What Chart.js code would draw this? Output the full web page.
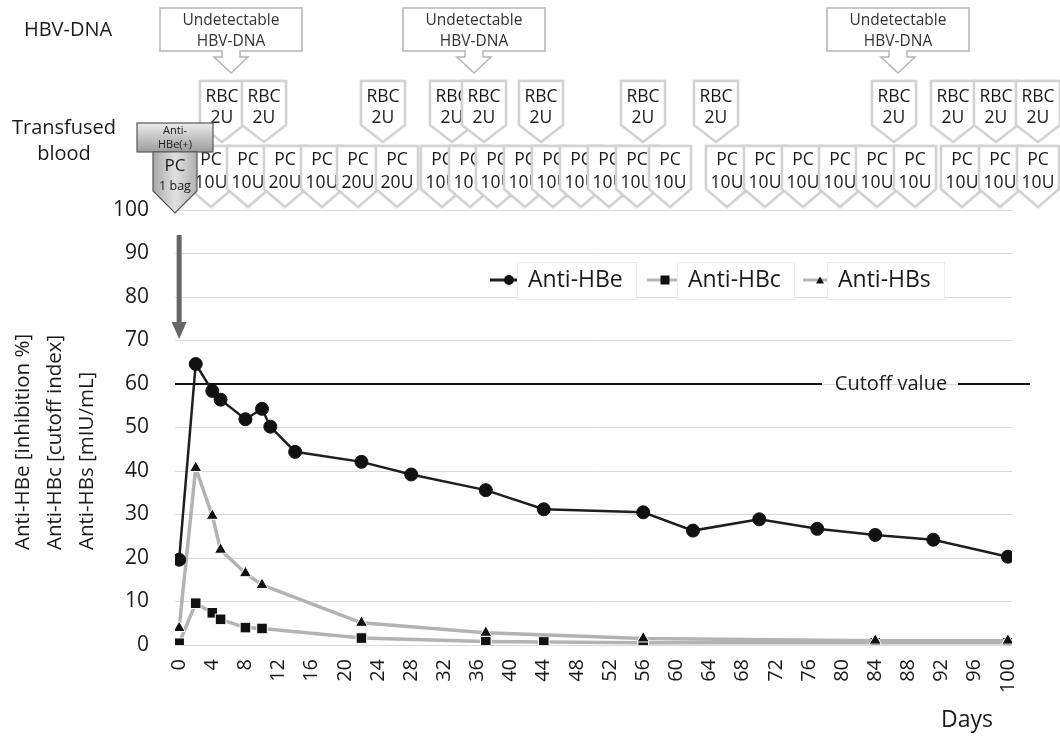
<!DOCTYPE html>
<html>
<head>
<meta charset="utf-8">
<script src="https://cdn.jsdelivr.net/npm/chart.js@4/dist/chart.umd.min.js"></script>
<style>
  html, body { margin: 0; background: #fff; }
  #wrap { width: 1060px; height: 736px; }
</style>
</head>
<body>
<div id="wrap"><canvas id="chart" width="1060" height="736"></canvas></div>
<script>
// values
const dayTicks = [0, 4, 8, 12, 16, 20, 24, 28, 32, 36, 40, 44, 48, 52, 56, 60, 64, 68, 72, 76, 80, 84, 88, 92, 96, 100];
const yTicks = [0, 10, 20, 30, 40, 50, 60, 70, 80, 90, 100];

const hbeDays   = [0, 2, 4, 5, 8, 10, 11, 14, 22, 28, 37, 44, 56, 62, 70, 77, 84, 91, 100];
const hbeValues = [19.6, 64.6, 58.4, 56.4, 51.9, 54.3, 50.2, 44.4, 42.1, 39.2, 35.6, 31.2, 30.5, 26.3, 28.9, 26.7, 25.3, 24.2, 20.3];

const hbcDays   = [0, 2, 4, 5, 8, 10, 22, 37, 44, 56, 84, 100];
const hbcValues = [0.4, 9.6, 7.4, 5.9, 4.0, 3.8, 1.6, 0.8, 0.7, 0.5, 0.5, 0.5];

const hbsDays   = [0, 2, 4, 5, 8, 10, 22, 37, 56, 84, 100];
const hbsValues = [3.9, 40.7, 29.7, 21.9, 16.5, 13.8, 5.1, 2.8, 1.5, 1.0, 1.0];

const cutoffValue = 60;

const seriesNames = ['Anti-HBe', 'Anti-HBc', 'Anti-HBs'];
const yTitleLines = ['Anti-HBe [inhibition %]', 'Anti-HBc [cutoff index]', 'Anti-HBs [mIU/mL]'];

// transfusion boxes along the top (pixel centres in the page)
const rbcBoxes = [222, 264, 383, 452, 484, 541, 643, 716, 894, 953, 996, 1038];
const pcBoxes = [
  [211, '10U'], [248, '10U'], [285, '20U'], [322, '10U'], [358, '20U'], [397, '20U'],
  [442, '10U'], [470, '10U'], [497, '10U'], [525, '10U'], [553, '10U'], [581, '10U'],
  [609, '10U'], [637, '10U'], [670, '10U'],
  [727, '10U'], [765, '10U'], [803, '10U'], [840, '10U'], [877, '10U'], [915, '10U'],
  [962, '10U'], [1000, '10U'], [1038, '10U']
];
const undetectable = [231, 474, 898];

const FONT = '"Open Sans", "DejaVu Sans", sans-serif';
const INK = '#1a1a1a';

const pts = (xs, ys) => xs.map((x, i) => ({ x: x, y: ys[i] }));

function pentagon(ctx, cx, top, sideBottom, apex, hw) {
  ctx.beginPath();
  ctx.moveTo(cx - hw, top);
  ctx.lineTo(cx + hw, top);
  ctx.lineTo(cx + hw, sideBottom);
  ctx.lineTo(cx, apex);
  ctx.lineTo(cx - hw, sideBottom);
  ctx.closePath();
}

function softBox(ctx) {
  ctx.save();
  ctx.shadowColor = 'rgba(0,0,0,0.22)';
  ctx.shadowBlur = 3;
  ctx.fillStyle = '#fff';
  ctx.fill();
  ctx.restore();
  ctx.strokeStyle = '#d2d2d2';
  ctx.lineWidth = 2.5;
  ctx.stroke();
}

const cutoffPlugin = {
  id: 'cutoff',
  beforeDatasetsDraw(chart) {
    const { ctx, chartArea, scales } = chart;
    const y = scales.y.getPixelForValue(cutoffValue);
    ctx.save();
    ctx.strokeStyle = '#111';
    ctx.lineWidth = 2;
    ctx.beginPath();
    ctx.moveTo(chartArea.left, y);
    ctx.lineTo(822, y);
    ctx.moveTo(958, y);
    ctx.lineTo(1030, y);
    ctx.stroke();
    ctx.fillStyle = INK;
    ctx.font = '20px ' + FONT;
    ctx.textAlign = 'center';
    ctx.textBaseline = 'middle';
    ctx.fillText('Cutoff value', 891, y);
    ctx.restore();
  }
};

const decorPlugin = {
  id: 'decor',
  afterDraw(chart) {
    const ctx = chart.ctx;
    ctx.save();
    ctx.textAlign = 'center';
    ctx.textBaseline = 'middle';

    // left labels
    ctx.fillStyle = INK;
    ctx.font = '20px ' + FONT;
    ctx.fillText('HBV-DNA', 68, 30);
    ctx.fillText('Transfused', 64, 128);
    ctx.fillText('blood', 64, 154);

    // PC row
    pcBoxes.forEach(([cx, units]) => {
      pentagon(ctx, cx, 146, 189, 207, 21);
      softBox(ctx);
      ctx.fillStyle = INK;
      ctx.font = '17.5px ' + FONT;
      ctx.fillText('PC', cx, 160);
      ctx.fillText(units, cx, 183);
    });

    // RBC row
    rbcBoxes.forEach(cx => {
      pentagon(ctx, cx, 81, 125, 142, 22);
      softBox(ctx);
      ctx.fillStyle = INK;
      ctx.font = '17.5px ' + FONT;
      ctx.fillText('RBC', cx, 97);
      ctx.fillText('2U', cx, 118);
    });

    // Undetectable HBV-DNA callouts
    undetectable.forEach(cx => {
      ctx.beginPath();
      ctx.moveTo(cx - 71, 8);
      ctx.lineTo(cx + 71, 8);
      ctx.lineTo(cx + 71, 51);
      ctx.lineTo(cx + 9, 51);
      ctx.lineTo(cx + 9, 57);
      ctx.lineTo(cx + 17, 57);
      ctx.lineTo(cx, 73);
      ctx.lineTo(cx - 17, 57);
      ctx.lineTo(cx - 9, 57);
      ctx.lineTo(cx - 9, 51);
      ctx.lineTo(cx - 71, 51);
      ctx.closePath();
      ctx.fillStyle = '#fff';
      ctx.fill();
      ctx.strokeStyle = '#b4b4b4';
      ctx.lineWidth = 1.5;
      ctx.stroke();
      ctx.fillStyle = '#333';
      ctx.font = '15.5px ' + FONT;
      ctx.fillText('Undetectable', cx, 21);
      ctx.fillText('HBV-DNA', cx, 42);
    });

    // Anti-HBe(+) PC bag
    let g = ctx.createLinearGradient(0, 123, 0, 152);
    g.addColorStop(0, '#ececec');
    g.addColorStop(1, '#9c9c9c');
    ctx.fillStyle = g;
    ctx.fillRect(137, 123, 76, 29);
    ctx.strokeStyle = '#555';
    ctx.lineWidth = 1.2;
    ctx.strokeRect(137, 123, 76, 29);
    ctx.fillStyle = INK;
    ctx.font = '11px ' + FONT;
    ctx.fillText('Anti-', 175, 131);
    ctx.fillText('HBe(+)', 175, 145);

    pentagon(ctx, 175, 152, 191, 213, 22);
    g = ctx.createLinearGradient(153, 0, 197, 0);
    g.addColorStop(0, '#a8a8a8');
    g.addColorStop(0.5, '#e0e0e0');
    g.addColorStop(1, '#b0b0b0');
    ctx.fillStyle = g;
    ctx.fill();
    ctx.strokeStyle = '#555';
    ctx.stroke();
    ctx.fillStyle = INK;
    ctx.font = '17px ' + FONT;
    ctx.fillText('PC', 175, 166);
    ctx.font = '12.5px ' + FONT;
    ctx.fillText('1 bag', 175, 186);

    // arrow from the bag down to day 0
    const ax = chart.scales.x.getPixelForValue(0);
    ctx.fillStyle = '#666';
    ctx.fillRect(ax - 2.5, 235, 5, 89);
    ctx.beginPath();
    ctx.moveTo(ax - 7.5, 322);
    ctx.lineTo(ax + 7.5, 322);
    ctx.lineTo(ax, 339);
    ctx.closePath();
    ctx.fill();

    // y-axis title (three left-aligned lines)
    ctx.fillStyle = INK;
    ctx.font = '20.5px ' + FONT;
    ctx.textAlign = 'left';
    [23, 55, 87].forEach((x, i) => {
      ctx.save();
      ctx.translate(x, 550);
      ctx.rotate(-Math.PI / 2);
      ctx.fillText(yTitleLines[i], 0, 0);
      ctx.restore();
    });

    // x-axis title
    ctx.textAlign = 'center';
    ctx.font = '23px ' + FONT;
    ctx.fillText('Days', 967, 720);

    // legend
    const legend = [
      { c: '#1e1e1e', m: 'circle', l0: 490, l1: 517, mx: 509, b0: 517, b1: 637 },
      { c: '#b3b3b3', m: 'rect', l0: 647, l1: 677, mx: 665, b0: 677, b1: 795 },
      { c: '#b3b3b3', m: 'triangle', l0: 803, l1: 827, mx: 820, b0: 827, b1: 945 }
    ];
    const ly = 280;
    legend.forEach((it, i) => {
      ctx.strokeStyle = it.c;
      ctx.lineWidth = 3;
      ctx.beginPath();
      ctx.moveTo(it.l0, ly);
      ctx.lineTo(it.l1, ly);
      ctx.stroke();
      ctx.fillStyle = '#111';
      ctx.beginPath();
      if (it.m === 'circle') ctx.arc(it.mx, ly, 5, 0, Math.PI * 2);
      else if (it.m === 'rect') ctx.rect(it.mx - 4.5, ly - 4.5, 9, 9);
      else { ctx.moveTo(it.mx - 4, ly + 3.5); ctx.lineTo(it.mx + 4, ly + 3.5); ctx.lineTo(it.mx, ly - 3.5); ctx.closePath(); }
      ctx.fill();
      ctx.fillStyle = '#fff';
      ctx.fillRect(it.b0, 262, it.b1 - it.b0, 38);
      ctx.strokeStyle = '#ececec';
      ctx.lineWidth = 1;
      ctx.strokeRect(it.b0 + 0.5, 262.5, it.b1 - it.b0 - 1, 37);
      ctx.fillStyle = INK;
      ctx.font = '23px ' + FONT;
      ctx.textAlign = 'left';
      ctx.fillText(seriesNames[i], it.b0 + 11, ly);
      ctx.textAlign = 'center';
    });

    ctx.restore();
  }
};

new Chart(document.getElementById('chart'), {
  type: 'line',
  data: {
    datasets: [
      {
        label: seriesNames[0],
        data: pts(hbeDays, hbeValues),
        borderColor: '#1e1e1e',
        borderWidth: 2.5,
        pointStyle: 'circle',
        pointRadius: 6.5,
        pointBackgroundColor: '#111',
        pointBorderColor: '#111',
        pointBorderWidth: 1,
        order: 1
      },
      {
        label: seriesNames[1],
        data: pts(hbcDays, hbcValues),
        borderColor: '#b3b3b3',
        borderWidth: 3.5,
        pointStyle: 'rect',
        pointRadius: 7.5,
        pointBackgroundColor: '#111',
        pointBorderColor: '#fff',
        pointBorderWidth: 1,
        order: 3
      },
      {
        label: seriesNames[2],
        data: pts(hbsDays, hbsValues),
        borderColor: '#b3b3b3',
        borderWidth: 3.5,
        pointStyle: 'triangle',
        pointRadius: 7,
        pointBackgroundColor: '#111',
        pointBorderColor: '#fff',
        pointBorderWidth: 1,
        order: 2
      }
    ]
  },
  options: {
    responsive: false,
    animation: false,
    devicePixelRatio: 1,
    layout: { padding: { left: 100, right: 48, top: 210, bottom: 0 } },
    plugins: {
      legend: { display: false },
      tooltip: { enabled: false }
    },
    scales: {
      x: {
        type: 'linear',
        min: -0.5,
        max: 100.5,
        afterBuildTicks: axis => { axis.ticks = dayTicks.map(v => ({ value: v })); },
        afterFit: axis => { axis.height = 91; },
        grid: { display: false },
        border: { display: false },
        ticks: {
          minRotation: 90,
          maxRotation: 90,
          padding: 6,
          color: INK,
          font: { family: FONT, size: 20 }
        }
      },
      y: {
        min: 0,
        max: 100,
        afterBuildTicks: axis => { axis.ticks = yTicks.map(v => ({ value: v })); },
        afterFit: axis => { axis.width = 75; },
        grid: { color: '#d9d9d9', lineWidth: 1, drawTicks: false },
        border: { display: false },
        ticks: {
          padding: 26,
          color: INK,
          font: { family: FONT, size: 21 }
        }
      }
    }
  },
  plugins: [cutoffPlugin, decorPlugin]
});
</script>
</body>
</html>
